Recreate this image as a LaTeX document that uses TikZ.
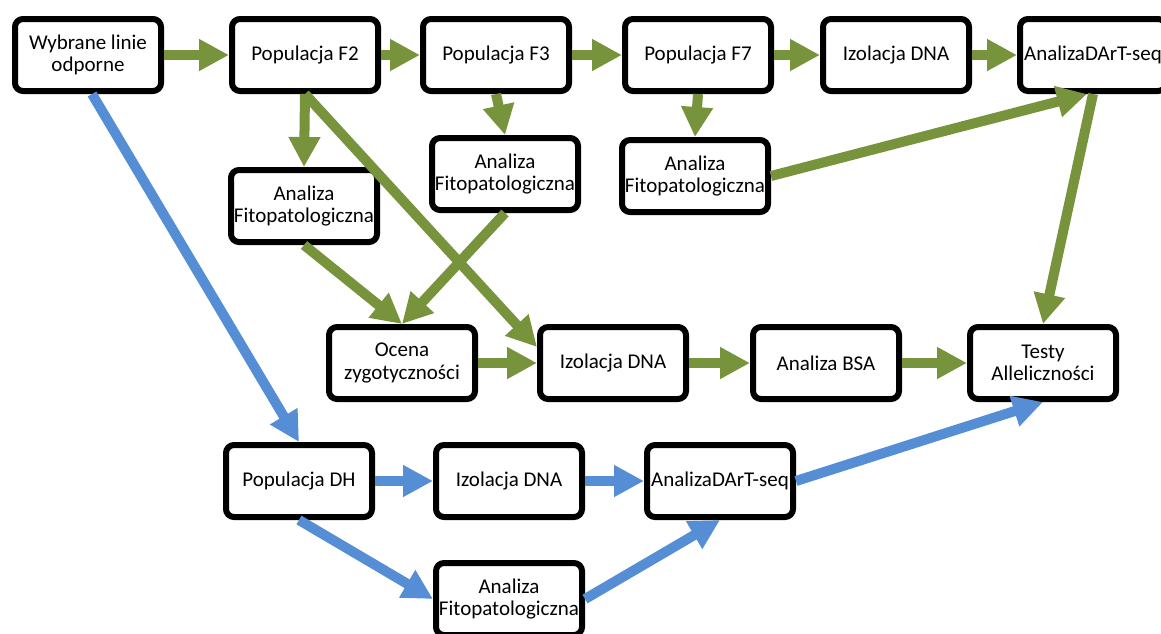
\documentclass[tikz,border=0pt]{standalone}
\usepackage{fontspec}
\setmainfont{Carlito}
\usepackage{tikz}
\usetikzlibrary{positioning, arrows.meta}

\definecolor{flowgreen}{RGB}{119,147,60}
\definecolor{flowblue}{RGB}{85,142,213}

\begin{document}
\begin{tikzpicture}[
    x=0.5pt, y=-0.5pt,
    stage/.style={
      draw=black,
      fill=white,
      line width=3pt,
      rounded corners=4pt,
      minimum width=73pt,
      minimum height=36pt,
      inner sep=1pt,
      align=center,
      font=\fontsize{10.5}{11.2}\selectfont,
    },
    greenflow/.style={
      draw=flowgreen,
      line width=5pt,
      -{Triangle[length=15pt, width=15pt]},
    },
    blueflow/.style={
      draw=flowblue,
      line width=5pt,
      -{Triangle[length=15pt, width=15pt]},
    },
  ]
  \useasboundingbox (0,0) rectangle (1161,633);

  % --- Top row: F2 to F7 line ---
  \node[stage] (sel)   at (88,55)   {Wybrane linie\\odporne};
  \node[stage] (f2)    at (305,55)  {Populacja F2};
  \node[stage] (f3)    at (496,55)  {Populacja F3};
  \node[stage] (f7)    at (698,55)  {Populacja F7};
  \node[stage] (dnaA)  at (896,55)  {Izolacja DNA};
  \node[stage] (dartA) at (1093,55) {AnalizaDArT-seq};

  % --- Phenotyping under each population ---
  \node[stage] (fitoA) at (304,206) {Analiza\\Fitopatologiczna};
  \node[stage] (fitoB) at (505,174) {Analiza\\Fitopatologiczna};
  \node[stage] (fitoC) at (695,176) {Analiza\\Fitopatologiczna};

  % --- Middle row: BSA path ---
  \node[stage] (zyg)   at (402,363)  {Ocena\\zygotyczności};
  \node[stage] (dnaB)  at (613,363)  {Izolacja DNA};
  \node[stage] (bsa)   at (826,363)  {Analiza BSA};
  \node[stage] (allel) at (1043,363) {Testy\\Alleliczności};

  % --- Bottom rows: DH line ---
  \node[stage] (dh)    at (299,481) {Populacja DH};
  \node[stage] (dnaC)  at (509,481) {Izolacja DNA};
  \node[stage] (dartC) at (720,481) {AnalizaDArT-seq};
  \node[stage] (fitoD) at (509,599) {Analiza\\Fitopatologiczna};

  % --- Green arrows (F2 / F3 / F7) ---
  \draw[greenflow] (sel) -- (f2);
  \draw[greenflow] (f2) -- (f3);
  \draw[greenflow] (f3) -- (f7);
  \draw[greenflow] (f7) -- (dnaA);
  \draw[greenflow] (dnaA) -- (dartA);
  \draw[greenflow] (f2.south) -- (fitoA.north);
  \draw[greenflow] (f2.south) -- ([yshift=8pt]dnaB.west);
  \draw[greenflow] (f3.south) -- (fitoB.north);
  \draw[greenflow] (f7.south) -- (fitoC.north);
  \draw[greenflow] (fitoA.south) -- (zyg.north);
  \draw[greenflow] (fitoB.south) -- (zyg.north);
  \draw[greenflow] (fitoC.east) -- ([xshift=-3pt]dartA.south);
  \draw[greenflow] (dartA.south) -- (allel.north);
  \draw[greenflow] (zyg) -- (dnaB);
  \draw[greenflow] (dnaB) -- (bsa);
  \draw[greenflow] (bsa) -- (allel);

  % --- Blue arrows (DH) ---
  \draw[blueflow] ([xshift=2pt]sel.south) -- (dh.north);
  \draw[blueflow] (dh) -- (dnaC);
  \draw[blueflow] (dnaC) -- (dartC);
  \draw[blueflow] (dh.south) -- (fitoD.west);
  \draw[blueflow] (fitoD.east) -- (dartC.south);
  \draw[blueflow] (dartC.east) -- (allel.south);

\end{tikzpicture}
\end{document}
